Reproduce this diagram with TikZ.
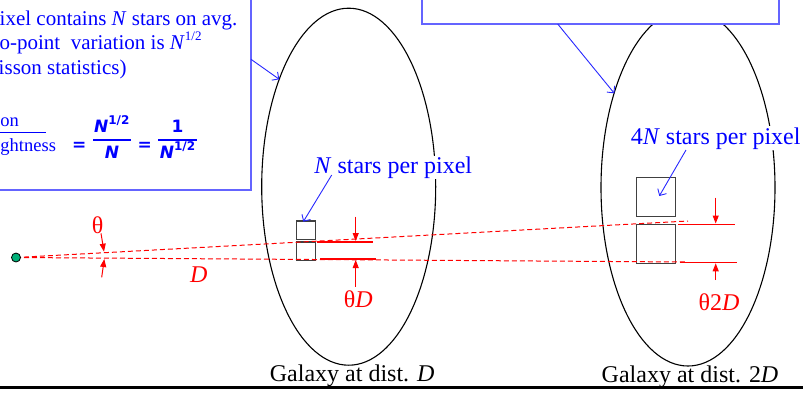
\documentclass[tikz,border=0pt]{standalone}
\usepackage{fontspec}
\setmainfont{Liberation Serif}
\newfontfamily\mfont{DejaVu Sans}
\usetikzlibrary{arrows.meta,shapes.geometric}
\definecolor{tblue}{RGB}{0,0,255}
\definecolor{bborder}{RGB}{100,100,255}
\definecolor{ablue}{RGB}{40,40,255}
\definecolor{tred}{RGB}{255,0,0}
\definecolor{dotgreen}{RGB}{0,176,120}
\newcommand\timessup[1]{\raisebox{0.42em}{\fontsize{13}{13}\selectfont #1}}
\newcommand\mathsup[1]{\raisebox{0.45em}{\fontsize{12}{12}\selectfont #1}}
\begin{document}
\begin{tikzpicture}[x=1pt,y=-1pt,
  galaxy/.style={draw=black, line width=1.1pt, ellipse, inner sep=0pt, minimum width=174pt, minimum height=357pt},
  pixbox/.style={draw=black!75, line width=1.1pt, inner sep=0pt},
  callout/.style={draw=bborder, line width=2pt},
  bluearrow/.style={draw=ablue, line width=0.9pt, -{Straight Barb[length=5pt,width=10pt]}},
  redarrow/.style={draw=tred, line width=1pt, -{Triangle[length=8pt,width=6pt]}},
  ray/.style={draw=tred, line width=1pt, dash pattern=on 5pt off 3pt},
  edgeline/.style={draw=tred, line width=1.5pt},
  lbl/.style={font=\fontsize{24}{28}\selectfont, inner sep=0pt},
  bluelbl/.style={lbl, text=tblue, fill=white, inner sep=1pt, anchor=base},
  redlbl/.style={lbl, text=tred, anchor=base},
  boxtxt/.style={font=\fontsize{21}{24}\selectfont, text=tblue, inner sep=0pt, anchor=base east},
  fractxt/.style={font=\fontsize{18.5}{22}\selectfont, text=tblue, inner sep=0pt, anchor=base west},
  mathtxt/.style={font=\mfont\bfseries\fontsize{17}{20}\selectfont, text=tblue, inner sep=0pt, anchor=base},
  fracrule/.style={draw=tblue, line width=1.5pt}
]
\useasboundingbox (0,0) rectangle (803,392);

% galaxies
\node[galaxy] (g1) at (348.7,186.7) {};
\node[galaxy] (g2) at (688,187.5) {};

% callout boxes
\fill[white] (0,0) rectangle (251,190);
\draw[callout] (0,190) -- (251,190) -- (251,0);
\fill[white] (421.7,0) rectangle (779,24);
\draw[callout] (421.7,0) -- (421.7,24) -- (779,24) -- (779,0);

% left callout text
\node[boxtxt] (t1) at (237.7,25) {ixel contains \textit{N} stars on avg.};
\node[boxtxt] (t2) at (201.7,49.3) {o-point\ \ variation is \textit{N}\timessup{1/2}};
\node[boxtxt] (t3) at (126.7,74) {isson statistics)};
\node[fractxt] (f1) at (0.3,126.7) {on};
\node[fractxt] (f2) at (0.3,151.7) {ghtness};
\coordinate (fr1a) at (0,132.7);
\coordinate (fr1b) at (45.7,132.7);
\draw[fracrule] (fr1a) -- (fr1b);
\node[mathtxt] (eq1) at (79.3,150) {=};
\node[mathtxt] (n1) at (111.7,132) {\textit{N}\mathsup{1/2}};
\coordinate (fr2a) at (93.3,140);
\coordinate (fr2b) at (131,140);
\draw[fracrule] (fr2a) -- (fr2b);
\node[mathtxt] (d1) at (112,158) {\textit{N}};
\node[mathtxt] (eq2) at (144.8,150) {=};
\node[mathtxt] (n2) at (177.5,132) {1};
\coordinate (fr3a) at (158.3,140);
\coordinate (fr3b) at (196.7,140);
\draw[fracrule] (fr3a) -- (fr3b);
\node[mathtxt] (d2) at (177.5,158) {\textit{N}\mathsup{1/2}};

% callout arrows
\coordinate (lbox) at (251,59.3);
\coordinate (g1hit) at (279.3,79.3);
\draw[bluearrow] (lbox) -- (g1hit);
\coordinate (rbox) at (557.7,24);
\coordinate (g2hit) at (614.3,93.3);
\draw[bluearrow] (rbox) -- (g2hit);

% pixel boxes
\node[pixbox, minimum width=18.6pt, minimum height=18.7pt] (p1u) at (306,230.3) {};
\node[pixbox, minimum width=18.6pt, minimum height=18.7pt] (p1l) at (306,251.3) {};
\node[pixbox, minimum width=38.6pt, minimum height=38.7pt] (p2u) at (656,196.7) {};
\node[pixbox, minimum width=38.6pt, minimum height=39pt] (p2l) at (656,243.8) {};

% rays
\coordinate (ru) at (688,221);
\coordinate (rl) at (687,262);
\coordinate (eyec) at (16,257.5);
\draw[ray] (eyec) -- (ru);
\draw[ray] (eyec) -- (rl);
\node[circle, fill=dotgreen, draw=black, line width=0.8pt, minimum size=9pt, inner sep=0pt] (eye) at (eyec) {};

% extent lines
\coordinate (e1a) at (317,242); \coordinate (e1b) at (373,242);
\coordinate (e2a) at (320,259); \coordinate (e2b) at (376,259);
\coordinate (e3a) at (678,224.3); \coordinate (e3b) at (735,224.3);
\coordinate (e4a) at (680,262.3); \coordinate (e4b) at (737,262.3);
\draw[edgeline] (e1a) -- (e1b);
\draw[edgeline] (e2a) -- (e2b);
\draw[edgeline] (e3a) -- (e3b);
\draw[edgeline] (e4a) -- (e4b);

% red arrows
\coordinate (a1s) at (355.7,216.7); \coordinate (a1e) at (355.7,241);
\coordinate (a2s) at (355.7,286.7); \coordinate (a2e) at (355.7,260);
\coordinate (a3s) at (715.7,197.7); \coordinate (a3e) at (715.7,223.5);
\coordinate (a4s) at (715.7,280); \coordinate (a4e) at (715.7,263.3);
\coordinate (a5s) at (101,233.3); \coordinate (a5e) at (104,251.7);
\coordinate (a6s) at (101.7,277.3); \coordinate (a6e) at (104.3,259);
\draw[redarrow] (a1s) -- (a1e);
\draw[redarrow] (a2s) -- (a2e);
\draw[redarrow] (a3s) -- (a3e);
\draw[redarrow] (a4s) -- (a4e);
\draw[redarrow] (a5s) -- (a5e);
\draw[redarrow] (a6s) -- (a6e);

% red labels
\node[redlbl] (theta) at (97.5,233) {θ};
\node[redlbl] (dist) at (198.7,282.7) {\textit{D}};
\node[redlbl] (thD) at (358.3,307) {θ\textit{D}};
\node[redlbl] (th2D) at (719,310) {θ2\textit{D}};

% blue labels
\node[bluelbl] (nlbl) at (393.3,173.3) {\textit{N} stars per pixel};
\node[bluelbl] (n4lbl) at (715.7,144) {4\textit{N} stars per pixel};
\coordinate (nA) at (331.7,175); \coordinate (nB) at (303.3,221.7);
\coordinate (n4A) at (686,150); \coordinate (n4B) at (659.3,196);
\draw[bluearrow] (nA) -- (nB);
\draw[bluearrow] (n4A) -- (n4B);

% galaxy labels
\node[lbl, anchor=base] (gl1) at (352.2,381.7) {Galaxy at dist. \textit{D}};
\node[lbl, anchor=base] (gl2) at (690,382.5) {Galaxy at dist. 2\textit{D}};

% bottom rule
\coordinate (bl) at (0,387); \coordinate (br) at (803,387);
\draw[line width=3pt] (bl) -- (br);
\end{tikzpicture}
\end{document}
